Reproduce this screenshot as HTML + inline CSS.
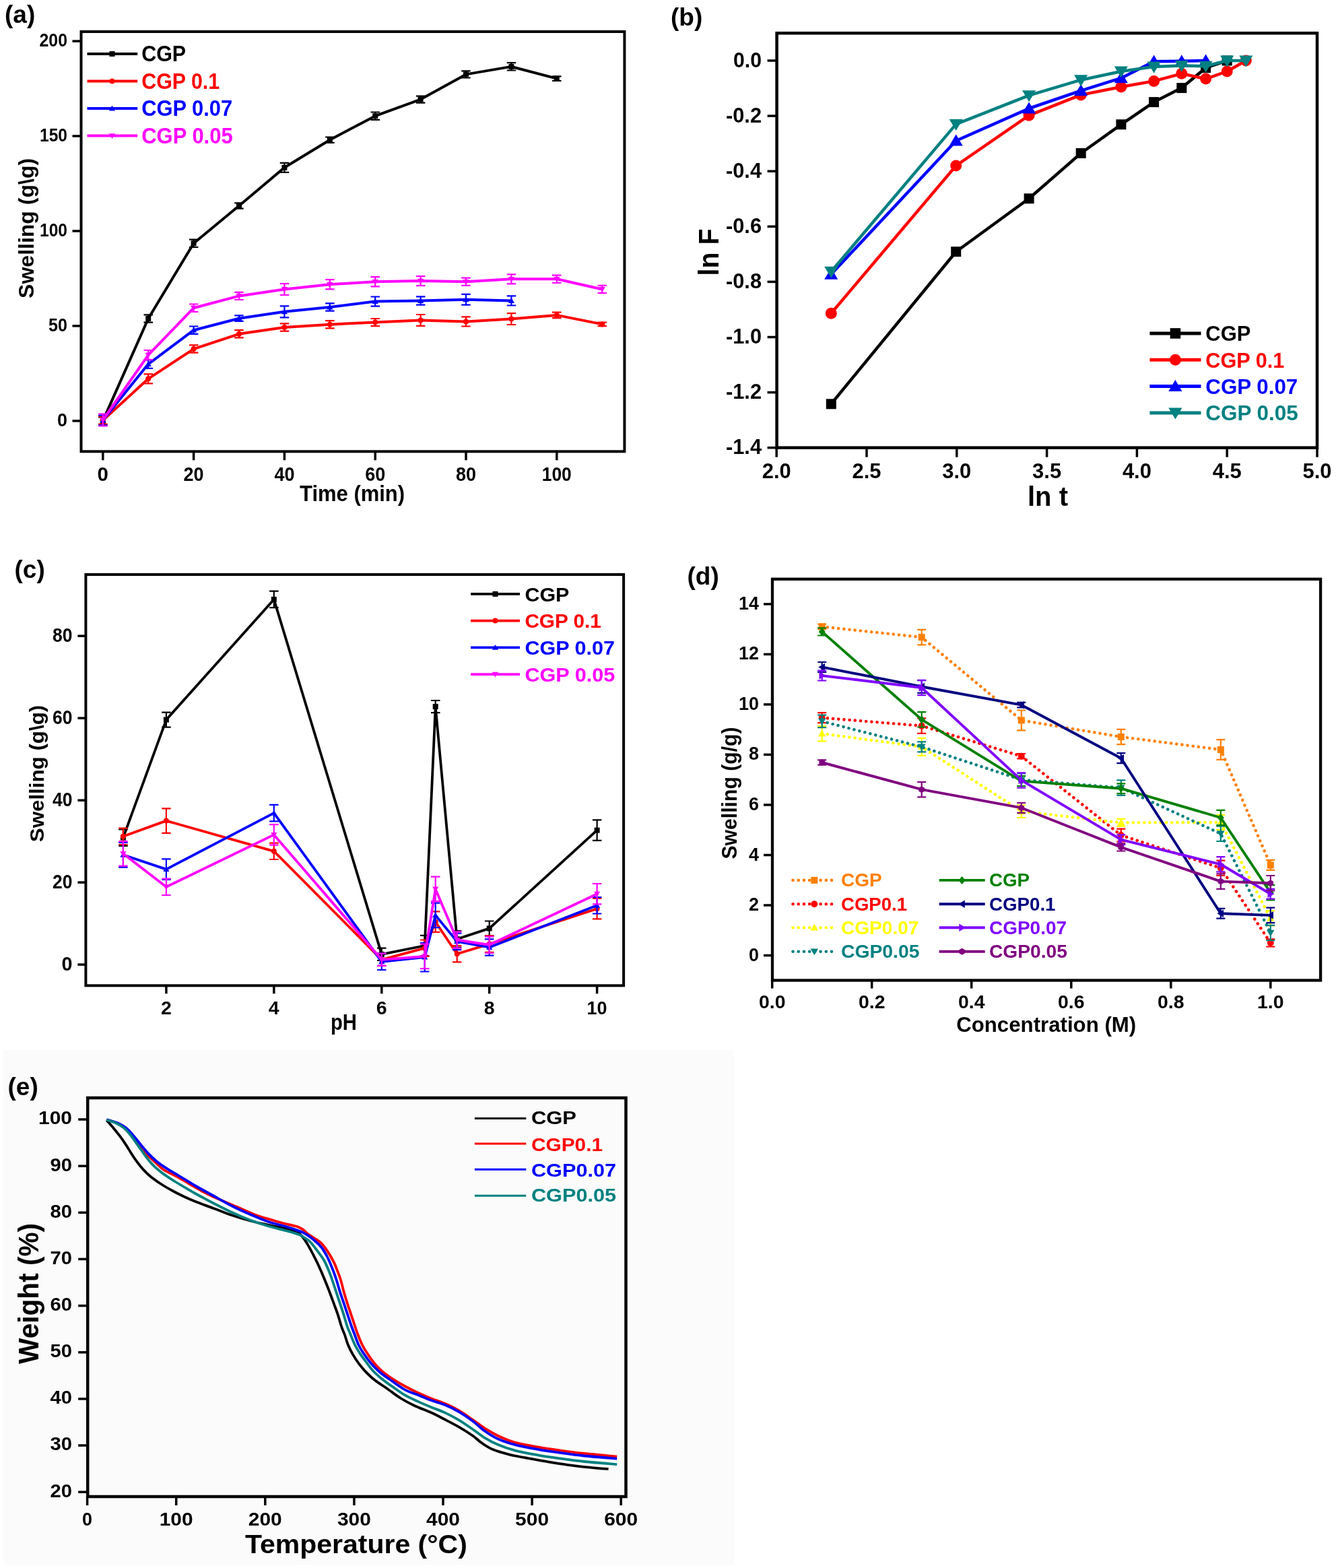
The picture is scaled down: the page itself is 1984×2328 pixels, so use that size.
<!DOCTYPE html>
<html><head><meta charset="utf-8"><title>Figure</title>
<style>html,body{margin:0;padding:0;background:#fff;width:1984px;height:2328px;overflow:hidden}svg{display:block}</style>
</head><body>
<svg width="1984" height="2328" viewBox="0 0 1984 2328" font-family="'Liberation Sans', Arial, sans-serif" font-weight="bold">
<rect width="1984" height="2328" fill="#fff"/>
<text x="7.0" y="33.5" font-size="37">(a)</text>
<line x1="107.5" y1="624.9" x2="120.5" y2="624.9" stroke="#000" stroke-width="3.5"/>
<text x="100.0" y="633.1" font-size="27" text-anchor="end">0</text>
<line x1="107.5" y1="483.9" x2="120.5" y2="483.9" stroke="#000" stroke-width="3.5"/>
<text x="100.0" y="492.1" font-size="27" text-anchor="end" textLength="28.0" lengthAdjust="spacingAndGlyphs">50</text>
<line x1="107.5" y1="343.0" x2="120.5" y2="343.0" stroke="#000" stroke-width="3.5"/>
<text x="100.0" y="351.2" font-size="27" text-anchor="end" textLength="41.0" lengthAdjust="spacingAndGlyphs">100</text>
<line x1="107.5" y1="202.0" x2="120.5" y2="202.0" stroke="#000" stroke-width="3.5"/>
<text x="100.0" y="210.2" font-size="27" text-anchor="end" textLength="41.0" lengthAdjust="spacingAndGlyphs">150</text>
<line x1="107.5" y1="61.1" x2="120.5" y2="61.1" stroke="#000" stroke-width="3.5"/>
<text x="100.0" y="69.3" font-size="27" text-anchor="end" textLength="41.5" lengthAdjust="spacingAndGlyphs">200</text>
<line x1="152.8" y1="670.3" x2="152.8" y2="683.3" stroke="#000" stroke-width="3.5"/>
<text x="152.8" y="714.0" font-size="29.5" text-anchor="middle">0</text>
<line x1="287.6" y1="670.3" x2="287.6" y2="683.3" stroke="#000" stroke-width="3.5"/>
<text x="287.6" y="714.0" font-size="29.5" text-anchor="middle" textLength="30.0" lengthAdjust="spacingAndGlyphs">20</text>
<line x1="422.4" y1="670.3" x2="422.4" y2="683.3" stroke="#000" stroke-width="3.5"/>
<text x="422.4" y="714.0" font-size="29.5" text-anchor="middle" textLength="30.0" lengthAdjust="spacingAndGlyphs">40</text>
<line x1="557.2" y1="670.3" x2="557.2" y2="683.3" stroke="#000" stroke-width="3.5"/>
<text x="557.2" y="714.0" font-size="29.5" text-anchor="middle" textLength="30.0" lengthAdjust="spacingAndGlyphs">60</text>
<line x1="692.0" y1="670.3" x2="692.0" y2="683.3" stroke="#000" stroke-width="3.5"/>
<text x="692.0" y="714.0" font-size="29.5" text-anchor="middle" textLength="30.0" lengthAdjust="spacingAndGlyphs">80</text>
<line x1="826.8" y1="670.3" x2="826.8" y2="683.3" stroke="#000" stroke-width="3.5"/>
<text x="826.8" y="714.0" font-size="29.5" text-anchor="middle" textLength="44.0" lengthAdjust="spacingAndGlyphs">100</text>
<text x="523.1" y="743.8" font-size="32.5" text-anchor="middle" textLength="156.0" lengthAdjust="spacingAndGlyphs">Time (min)</text>
<text x="50.0" y="338.9" font-size="31" text-anchor="middle" textLength="208.0" lengthAdjust="spacingAndGlyphs" transform="rotate(-90 50.0 338.9)">Swelling (g\g)</text>
<polyline points="152.8,624.9 220.2,473.0 287.6,361.3 355.0,305.5 422.4,248.8 489.8,207.7 557.2,172.2 624.6,147.6 692.0,110.4 759.4,98.9 826.8,116.6" fill="none" stroke="#000000" stroke-width="4" stroke-linejoin="round"/>
<path d="M152.8,630.5V619.3M146.1,630.5h13.5M146.1,619.3h13.5" stroke="#000000" stroke-width="2.2" fill="none"/>
<path d="M220.2,478.6V467.3M213.5,478.6h13.5M213.5,467.3h13.5" stroke="#000000" stroke-width="2.2" fill="none"/>
<path d="M287.6,367.0V355.7M280.9,367.0h13.5M280.9,355.7h13.5" stroke="#000000" stroke-width="2.2" fill="none"/>
<path d="M355.0,309.7V301.3M348.2,309.7h13.5M348.2,301.3h13.5" stroke="#000000" stroke-width="2.2" fill="none"/>
<path d="M422.4,255.9V241.8M415.7,255.9h13.5M415.7,241.8h13.5" stroke="#000000" stroke-width="2.2" fill="none"/>
<path d="M489.8,211.9V203.5M483.1,211.9h13.5M483.1,203.5h13.5" stroke="#000000" stroke-width="2.2" fill="none"/>
<path d="M557.2,177.8V166.5M550.5,177.8h13.5M550.5,166.5h13.5" stroke="#000000" stroke-width="2.2" fill="none"/>
<path d="M624.6,152.7V142.6M617.9,152.7h13.5M617.9,142.6h13.5" stroke="#000000" stroke-width="2.2" fill="none"/>
<path d="M692.0,115.5V105.4M685.2,115.5h13.5M685.2,105.4h13.5" stroke="#000000" stroke-width="2.2" fill="none"/>
<path d="M759.4,104.5V93.2M752.7,104.5h13.5M752.7,93.2h13.5" stroke="#000000" stroke-width="2.2" fill="none"/>
<path d="M826.8,120.0V113.3M820.0,120.0h13.5M820.0,113.3h13.5" stroke="#000000" stroke-width="2.2" fill="none"/>
<rect x="148.8" y="620.9" width="8.0" height="8.0" fill="#000000"/>
<rect x="216.2" y="469.0" width="8.0" height="8.0" fill="#000000"/>
<rect x="283.6" y="357.3" width="8.0" height="8.0" fill="#000000"/>
<rect x="351.0" y="301.5" width="8.0" height="8.0" fill="#000000"/>
<rect x="418.4" y="244.8" width="8.0" height="8.0" fill="#000000"/>
<rect x="485.8" y="203.7" width="8.0" height="8.0" fill="#000000"/>
<rect x="553.2" y="168.2" width="8.0" height="8.0" fill="#000000"/>
<rect x="620.6" y="143.6" width="8.0" height="8.0" fill="#000000"/>
<rect x="688.0" y="106.4" width="8.0" height="8.0" fill="#000000"/>
<rect x="755.4" y="94.9" width="8.0" height="8.0" fill="#000000"/>
<rect x="822.8" y="112.6" width="8.0" height="8.0" fill="#000000"/>
<polyline points="152.8,624.1 220.2,562.3 287.6,518.1 355.0,495.8 422.4,485.9 489.8,481.7 557.2,478.6 624.6,475.5 692.0,477.5 759.4,473.5 826.8,467.9 894.2,481.4" fill="none" stroke="#ff0000" stroke-width="4" stroke-linejoin="round"/>
<path d="M152.8,629.7V618.4M146.1,629.7h13.5M146.1,618.4h13.5" stroke="#ff0000" stroke-width="2.2" fill="none"/>
<path d="M220.2,569.4V555.3M213.5,569.4h13.5M213.5,555.3h13.5" stroke="#ff0000" stroke-width="2.2" fill="none"/>
<path d="M287.6,523.7V512.4M280.9,523.7h13.5M280.9,512.4h13.5" stroke="#ff0000" stroke-width="2.2" fill="none"/>
<path d="M355.0,501.4V490.2M348.2,501.4h13.5M348.2,490.2h13.5" stroke="#ff0000" stroke-width="2.2" fill="none"/>
<path d="M422.4,491.6V480.3M415.7,491.6h13.5M415.7,480.3h13.5" stroke="#ff0000" stroke-width="2.2" fill="none"/>
<path d="M489.8,487.3V476.1M483.1,487.3h13.5M483.1,476.1h13.5" stroke="#ff0000" stroke-width="2.2" fill="none"/>
<path d="M557.2,484.2V473.0M550.5,484.2h13.5M550.5,473.0h13.5" stroke="#ff0000" stroke-width="2.2" fill="none"/>
<path d="M624.6,483.9V467.0M617.9,483.9h13.5M617.9,467.0h13.5" stroke="#ff0000" stroke-width="2.2" fill="none"/>
<path d="M692.0,484.5V470.4M685.2,484.5h13.5M685.2,470.4h13.5" stroke="#ff0000" stroke-width="2.2" fill="none"/>
<path d="M759.4,482.0V465.1M752.7,482.0h13.5M752.7,465.1h13.5" stroke="#ff0000" stroke-width="2.2" fill="none"/>
<path d="M826.8,472.1V463.7M820.0,472.1h13.5M820.0,463.7h13.5" stroke="#ff0000" stroke-width="2.2" fill="none"/>
<path d="M894.2,484.2V478.6M887.5,484.2h13.5M887.5,478.6h13.5" stroke="#ff0000" stroke-width="2.2" fill="none"/>
<circle cx="152.8" cy="624.1" r="4.0" fill="#ff0000"/>
<circle cx="220.2" cy="562.3" r="4.0" fill="#ff0000"/>
<circle cx="287.6" cy="518.1" r="4.0" fill="#ff0000"/>
<circle cx="355.0" cy="495.8" r="4.0" fill="#ff0000"/>
<circle cx="422.4" cy="485.9" r="4.0" fill="#ff0000"/>
<circle cx="489.8" cy="481.7" r="4.0" fill="#ff0000"/>
<circle cx="557.2" cy="478.6" r="4.0" fill="#ff0000"/>
<circle cx="624.6" cy="475.5" r="4.0" fill="#ff0000"/>
<circle cx="692.0" cy="477.5" r="4.0" fill="#ff0000"/>
<circle cx="759.4" cy="473.5" r="4.0" fill="#ff0000"/>
<circle cx="826.8" cy="467.9" r="4.0" fill="#ff0000"/>
<circle cx="894.2" cy="481.4" r="4.0" fill="#ff0000"/>
<polyline points="152.8,624.1 220.2,540.6 287.6,490.2 355.0,472.7 422.4,462.8 489.8,456.0 557.2,447.6 624.6,446.5 692.0,444.8 759.4,446.5" fill="none" stroke="#0000ff" stroke-width="4" stroke-linejoin="round"/>
<path d="M152.8,631.4V616.7M146.1,631.4h13.5M146.1,616.7h13.5" stroke="#0000ff" stroke-width="2.2" fill="none"/>
<path d="M220.2,546.8V534.4M213.5,546.8h13.5M213.5,534.4h13.5" stroke="#0000ff" stroke-width="2.2" fill="none"/>
<path d="M287.6,495.8V484.5M280.9,495.8h13.5M280.9,484.5h13.5" stroke="#0000ff" stroke-width="2.2" fill="none"/>
<path d="M355.0,476.9V468.4M348.2,476.9h13.5M348.2,468.4h13.5" stroke="#0000ff" stroke-width="2.2" fill="none"/>
<path d="M422.4,471.3V454.4M415.7,471.3h13.5M415.7,454.4h13.5" stroke="#0000ff" stroke-width="2.2" fill="none"/>
<path d="M489.8,461.7V450.4M483.1,461.7h13.5M483.1,450.4h13.5" stroke="#0000ff" stroke-width="2.2" fill="none"/>
<path d="M557.2,454.6V440.5M550.5,454.6h13.5M550.5,440.5h13.5" stroke="#0000ff" stroke-width="2.2" fill="none"/>
<path d="M624.6,452.7V440.3M617.9,452.7h13.5M617.9,440.3h13.5" stroke="#0000ff" stroke-width="2.2" fill="none"/>
<path d="M692.0,452.7V436.9M685.2,452.7h13.5M685.2,436.9h13.5" stroke="#0000ff" stroke-width="2.2" fill="none"/>
<path d="M759.4,453.5V439.4M752.7,453.5h13.5M752.7,439.4h13.5" stroke="#0000ff" stroke-width="2.2" fill="none"/>
<polygon points="152.8,619.7 157.4,627.5 148.2,627.5" fill="#0000ff"/>
<polygon points="220.2,536.2 224.8,544.0 215.6,544.0" fill="#0000ff"/>
<polygon points="287.6,485.8 292.2,493.6 283.0,493.6" fill="#0000ff"/>
<polygon points="355.0,468.3 359.6,476.1 350.4,476.1" fill="#0000ff"/>
<polygon points="422.4,458.4 427.0,466.2 417.8,466.2" fill="#0000ff"/>
<polygon points="489.8,451.6 494.4,459.4 485.2,459.4" fill="#0000ff"/>
<polygon points="557.2,443.2 561.8,451.0 552.6,451.0" fill="#0000ff"/>
<polygon points="624.6,442.1 629.2,449.9 620.0,449.9" fill="#0000ff"/>
<polygon points="692.0,440.4 696.6,448.2 687.4,448.2" fill="#0000ff"/>
<polygon points="759.4,442.1 764.0,449.9 754.8,449.9" fill="#0000ff"/>
<polyline points="152.8,623.5 220.2,527.1 287.6,457.2 355.0,439.4 422.4,429.5 489.8,422.2 557.2,418.3 624.6,417.1 692.0,418.3 759.4,414.3 826.8,414.3 894.2,429.5" fill="none" stroke="#ff00ff" stroke-width="4" stroke-linejoin="round"/>
<path d="M152.8,632.5V614.5M146.1,632.5h13.5M146.1,614.5h13.5" stroke="#ff00ff" stroke-width="2.2" fill="none"/>
<path d="M220.2,534.1V520.0M213.5,534.1h13.5M213.5,520.0h13.5" stroke="#ff00ff" stroke-width="2.2" fill="none"/>
<path d="M287.6,462.8V451.5M280.9,462.8h13.5M280.9,451.5h13.5" stroke="#ff00ff" stroke-width="2.2" fill="none"/>
<path d="M355.0,445.0V433.8M348.2,445.0h13.5M348.2,433.8h13.5" stroke="#ff00ff" stroke-width="2.2" fill="none"/>
<path d="M422.4,438.0V421.1M415.7,438.0h13.5M415.7,421.1h13.5" stroke="#ff00ff" stroke-width="2.2" fill="none"/>
<path d="M489.8,429.3V415.2M483.1,429.3h13.5M483.1,415.2h13.5" stroke="#ff00ff" stroke-width="2.2" fill="none"/>
<path d="M557.2,425.3V411.2M550.5,425.3h13.5M550.5,411.2h13.5" stroke="#ff00ff" stroke-width="2.2" fill="none"/>
<path d="M624.6,424.2V410.1M617.9,424.2h13.5M617.9,410.1h13.5" stroke="#ff00ff" stroke-width="2.2" fill="none"/>
<path d="M692.0,423.9V412.6M685.2,423.9h13.5M685.2,412.6h13.5" stroke="#ff00ff" stroke-width="2.2" fill="none"/>
<path d="M759.4,421.4V407.3M752.7,421.4h13.5M752.7,407.3h13.5" stroke="#ff00ff" stroke-width="2.2" fill="none"/>
<path d="M826.8,420.0V408.7M820.0,420.0h13.5M820.0,408.7h13.5" stroke="#ff00ff" stroke-width="2.2" fill="none"/>
<path d="M894.2,435.2V423.9M887.5,435.2h13.5M887.5,423.9h13.5" stroke="#ff00ff" stroke-width="2.2" fill="none"/>
<polygon points="152.8,627.9 157.4,620.1 148.2,620.1" fill="#ff00ff"/>
<polygon points="220.2,531.5 224.8,523.7 215.6,523.7" fill="#ff00ff"/>
<polygon points="287.6,461.6 292.2,453.8 283.0,453.8" fill="#ff00ff"/>
<polygon points="355.0,443.8 359.6,436.0 350.4,436.0" fill="#ff00ff"/>
<polygon points="422.4,433.9 427.0,426.1 417.8,426.1" fill="#ff00ff"/>
<polygon points="489.8,426.6 494.4,418.8 485.2,418.8" fill="#ff00ff"/>
<polygon points="557.2,422.7 561.8,414.9 552.6,414.9" fill="#ff00ff"/>
<polygon points="624.6,421.5 629.2,413.7 620.0,413.7" fill="#ff00ff"/>
<polygon points="692.0,422.7 696.6,414.9 687.4,414.9" fill="#ff00ff"/>
<polygon points="759.4,418.7 764.0,410.9 754.8,410.9" fill="#ff00ff"/>
<polygon points="826.8,418.7 831.4,410.9 822.2,410.9" fill="#ff00ff"/>
<polygon points="894.2,433.9 898.8,426.1 889.6,426.1" fill="#ff00ff"/>
<rect x="120.5" y="47.0" width="806.9" height="623.3" fill="none" stroke="#000" stroke-width="4"/>
<line x1="129.5" y1="80.0" x2="204.2" y2="80.0" stroke="#000" stroke-width="4"/>
<rect x="162.5" y="76.0" width="8.0" height="8.0" fill="#000"/>
<text x="210.2" y="91.2" font-size="33" textLength="66.0" lengthAdjust="spacingAndGlyphs">CGP</text>
<line x1="129.5" y1="120.5" x2="204.2" y2="120.5" stroke="#ff0000" stroke-width="4"/>
<circle cx="166.5" cy="120.5" r="4.0" fill="#ff0000"/>
<text x="210.2" y="131.8" font-size="33" fill="#ff0000" textLength="116.0" lengthAdjust="spacingAndGlyphs">CGP 0.1</text>
<line x1="129.5" y1="161.1" x2="204.2" y2="161.1" stroke="#0000ff" stroke-width="4"/>
<polygon points="166.5,156.7 171.1,164.5 161.9,164.5" fill="#0000ff"/>
<text x="210.2" y="172.3" font-size="33" fill="#0000ff" textLength="135.0" lengthAdjust="spacingAndGlyphs">CGP 0.07</text>
<line x1="129.5" y1="201.6" x2="204.2" y2="201.6" stroke="#ff00ff" stroke-width="4"/>
<polygon points="166.5,206.0 171.1,198.2 161.9,198.2" fill="#ff00ff"/>
<text x="210.2" y="212.8" font-size="33" fill="#ff00ff" textLength="135.5" lengthAdjust="spacingAndGlyphs">CGP 0.05</text>
<text x="996.0" y="38.3" font-size="37">(b)</text>
<line x1="1139.6" y1="90.0" x2="1153.6" y2="90.0" stroke="#000" stroke-width="3.5"/>
<text x="1131.0" y="99.6" font-size="31.5" text-anchor="end" textLength="42.0" lengthAdjust="spacingAndGlyphs">0.0</text>
<line x1="1139.6" y1="172.1" x2="1153.6" y2="172.1" stroke="#000" stroke-width="3.5"/>
<text x="1131.0" y="181.7" font-size="31.5" text-anchor="end" textLength="53.0" lengthAdjust="spacingAndGlyphs">-0.2</text>
<line x1="1139.6" y1="254.2" x2="1153.6" y2="254.2" stroke="#000" stroke-width="3.5"/>
<text x="1131.0" y="263.8" font-size="31.5" text-anchor="end" textLength="53.0" lengthAdjust="spacingAndGlyphs">-0.4</text>
<line x1="1139.6" y1="336.3" x2="1153.6" y2="336.3" stroke="#000" stroke-width="3.5"/>
<text x="1131.0" y="345.9" font-size="31.5" text-anchor="end" textLength="53.0" lengthAdjust="spacingAndGlyphs">-0.6</text>
<line x1="1139.6" y1="418.4" x2="1153.6" y2="418.4" stroke="#000" stroke-width="3.5"/>
<text x="1131.0" y="428.0" font-size="31.5" text-anchor="end" textLength="53.0" lengthAdjust="spacingAndGlyphs">-0.8</text>
<line x1="1139.6" y1="500.5" x2="1153.6" y2="500.5" stroke="#000" stroke-width="3.5"/>
<text x="1131.0" y="510.1" font-size="31.5" text-anchor="end" textLength="53.0" lengthAdjust="spacingAndGlyphs">-1.0</text>
<line x1="1139.6" y1="582.6" x2="1153.6" y2="582.6" stroke="#000" stroke-width="3.5"/>
<text x="1131.0" y="592.2" font-size="31.5" text-anchor="end" textLength="53.0" lengthAdjust="spacingAndGlyphs">-1.2</text>
<line x1="1139.6" y1="664.7" x2="1153.6" y2="664.7" stroke="#000" stroke-width="3.5"/>
<text x="1131.0" y="674.3" font-size="31.5" text-anchor="end" textLength="53.0" lengthAdjust="spacingAndGlyphs">-1.4</text>
<line x1="1153.2" y1="664.7" x2="1153.2" y2="678.7" stroke="#000" stroke-width="3.5"/>
<text x="1153.2" y="710.0" font-size="31" text-anchor="middle" textLength="43.0" lengthAdjust="spacingAndGlyphs">2.0</text>
<line x1="1287.0" y1="664.7" x2="1287.0" y2="678.7" stroke="#000" stroke-width="3.5"/>
<text x="1287.0" y="710.0" font-size="31" text-anchor="middle" textLength="43.0" lengthAdjust="spacingAndGlyphs">2.5</text>
<line x1="1420.8" y1="664.7" x2="1420.8" y2="678.7" stroke="#000" stroke-width="3.5"/>
<text x="1420.8" y="710.0" font-size="31" text-anchor="middle" textLength="43.0" lengthAdjust="spacingAndGlyphs">3.0</text>
<line x1="1554.6" y1="664.7" x2="1554.6" y2="678.7" stroke="#000" stroke-width="3.5"/>
<text x="1554.6" y="710.0" font-size="31" text-anchor="middle" textLength="43.0" lengthAdjust="spacingAndGlyphs">3.5</text>
<line x1="1688.4" y1="664.7" x2="1688.4" y2="678.7" stroke="#000" stroke-width="3.5"/>
<text x="1688.4" y="710.0" font-size="31" text-anchor="middle" textLength="43.0" lengthAdjust="spacingAndGlyphs">4.0</text>
<line x1="1822.2" y1="664.7" x2="1822.2" y2="678.7" stroke="#000" stroke-width="3.5"/>
<text x="1822.2" y="710.0" font-size="31" text-anchor="middle" textLength="43.0" lengthAdjust="spacingAndGlyphs">4.5</text>
<line x1="1956.0" y1="664.7" x2="1956.0" y2="678.7" stroke="#000" stroke-width="3.5"/>
<text x="1956.0" y="710.0" font-size="31" text-anchor="middle" textLength="43.0" lengthAdjust="spacingAndGlyphs">5.0</text>
<text x="1556.0" y="750.7" font-size="40" text-anchor="middle" textLength="60.0" lengthAdjust="spacingAndGlyphs">ln t</text>
<text x="1066.7" y="374.5" font-size="41.6" text-anchor="middle" textLength="70.0" lengthAdjust="spacingAndGlyphs" transform="rotate(-90 1066.7 374.5)">ln F</text>
<polyline points="1234.3,599.8 1419.7,373.7 1528.1,294.8 1605.2,227.5 1664.9,184.8 1713.6,151.6 1754.8,130.6 1790.6,100.7 1822.2,90.0" fill="none" stroke="#000000" stroke-width="4.5" stroke-linejoin="round"/>
<rect x="1226.8" y="592.3" width="15.0" height="15.0" fill="#000000"/>
<rect x="1412.2" y="366.2" width="15.0" height="15.0" fill="#000000"/>
<rect x="1520.6" y="287.3" width="15.0" height="15.0" fill="#000000"/>
<rect x="1597.7" y="220.0" width="15.0" height="15.0" fill="#000000"/>
<rect x="1657.4" y="177.3" width="15.0" height="15.0" fill="#000000"/>
<rect x="1706.1" y="144.1" width="15.0" height="15.0" fill="#000000"/>
<rect x="1747.3" y="123.1" width="15.0" height="15.0" fill="#000000"/>
<rect x="1783.1" y="93.2" width="15.0" height="15.0" fill="#000000"/>
<rect x="1814.7" y="82.5" width="15.0" height="15.0" fill="#000000"/>
<polyline points="1234.3,465.2 1419.7,246.0 1528.1,171.3 1605.2,140.9 1664.9,129.0 1713.6,120.4 1754.8,109.3 1790.6,117.1 1822.2,106.0 1850.3,90.0" fill="none" stroke="#ff0000" stroke-width="4.5" stroke-linejoin="round"/>
<circle cx="1234.3" cy="465.2" r="8.5" fill="#ff0000"/>
<circle cx="1419.7" cy="246.0" r="8.5" fill="#ff0000"/>
<circle cx="1528.1" cy="171.3" r="8.5" fill="#ff0000"/>
<circle cx="1605.2" cy="140.9" r="8.5" fill="#ff0000"/>
<circle cx="1664.9" cy="129.0" r="8.5" fill="#ff0000"/>
<circle cx="1713.6" cy="120.4" r="8.5" fill="#ff0000"/>
<circle cx="1754.8" cy="109.3" r="8.5" fill="#ff0000"/>
<circle cx="1790.6" cy="117.1" r="8.5" fill="#ff0000"/>
<circle cx="1822.2" cy="106.0" r="8.5" fill="#ff0000"/>
<circle cx="1850.3" cy="90.0" r="8.5" fill="#ff0000"/>
<polyline points="1234.3,407.3 1419.7,209.0 1528.1,161.0 1605.2,134.7 1664.9,115.9 1713.6,91.2 1754.8,90.8 1790.6,90.0" fill="none" stroke="#0000ff" stroke-width="4.5" stroke-linejoin="round"/>
<polygon points="1234.3,397.7 1244.3,414.8 1224.2,414.8" fill="#0000ff"/>
<polygon points="1419.7,199.4 1429.8,216.5 1409.7,216.5" fill="#0000ff"/>
<polygon points="1528.1,151.4 1538.2,168.5 1518.0,168.5" fill="#0000ff"/>
<polygon points="1605.2,125.1 1615.2,142.2 1595.1,142.2" fill="#0000ff"/>
<polygon points="1664.9,106.2 1674.9,123.3 1654.8,123.3" fill="#0000ff"/>
<polygon points="1713.6,81.6 1723.6,98.7 1703.5,98.7" fill="#0000ff"/>
<polygon points="1754.8,81.2 1764.8,98.3 1744.7,98.3" fill="#0000ff"/>
<polygon points="1790.6,80.4 1800.7,97.4 1780.6,97.4" fill="#0000ff"/>
<polyline points="1234.3,403.2 1419.7,184.4 1528.1,141.7 1605.2,118.7 1664.9,106.0 1713.6,99.0 1754.8,97.4 1790.6,98.2 1822.2,90.0 1850.3,90.0" fill="none" stroke="#008080" stroke-width="4.5" stroke-linejoin="round"/>
<polygon points="1234.3,412.8 1244.3,395.8 1224.2,395.8" fill="#008080"/>
<polygon points="1419.7,194.0 1429.8,177.0 1409.7,177.0" fill="#008080"/>
<polygon points="1528.1,151.3 1538.2,134.3 1518.0,134.3" fill="#008080"/>
<polygon points="1605.2,128.4 1615.2,111.3 1595.1,111.3" fill="#008080"/>
<polygon points="1664.9,115.6 1674.9,98.6 1654.8,98.6" fill="#008080"/>
<polygon points="1713.6,108.7 1723.6,91.6 1703.5,91.6" fill="#008080"/>
<polygon points="1754.8,107.0 1764.8,90.0 1744.7,90.0" fill="#008080"/>
<polygon points="1790.6,107.8 1800.7,90.8 1780.6,90.8" fill="#008080"/>
<polygon points="1822.2,99.6 1832.3,82.6 1812.1,82.6" fill="#008080"/>
<polygon points="1850.3,99.6 1860.4,82.6 1840.2,82.6" fill="#008080"/>
<rect x="1153.6" y="49.2" width="802.4" height="615.5" fill="none" stroke="#000" stroke-width="4.5"/>
<line x1="1707.4" y1="495.0" x2="1783.5" y2="495.0" stroke="#000" stroke-width="5"/>
<rect x="1737.7" y="487.2" width="15.5" height="15.5" fill="#000"/>
<text x="1790.3" y="506.2" font-size="32" textLength="67.0" lengthAdjust="spacingAndGlyphs">CGP</text>
<line x1="1707.4" y1="534.3" x2="1783.5" y2="534.3" stroke="#ff0000" stroke-width="5"/>
<circle cx="1745.4" cy="534.3" r="8.5" fill="#ff0000"/>
<text x="1790.3" y="545.5" font-size="32" fill="#ff0000" textLength="117.0" lengthAdjust="spacingAndGlyphs">CGP 0.1</text>
<line x1="1707.4" y1="573.6" x2="1783.5" y2="573.6" stroke="#0000ff" stroke-width="5"/>
<polygon points="1745.4,564.0 1755.5,581.0 1735.3,581.0" fill="#0000ff"/>
<text x="1790.3" y="584.8" font-size="32" fill="#0000ff" textLength="137.0" lengthAdjust="spacingAndGlyphs">CGP 0.07</text>
<line x1="1707.4" y1="612.9" x2="1783.5" y2="612.9" stroke="#008080" stroke-width="5"/>
<polygon points="1745.4,622.5 1755.5,605.5 1735.3,605.5" fill="#008080"/>
<text x="1790.3" y="624.1" font-size="32" fill="#008080" textLength="137.5" lengthAdjust="spacingAndGlyphs">CGP 0.05</text>
<text x="21.5" y="858.2" font-size="37">(c)</text>
<line x1="115.4" y1="1432.1" x2="127.4" y2="1432.1" stroke="#000" stroke-width="3.5"/>
<text x="107.5" y="1441.1" font-size="28.8" text-anchor="end">0</text>
<line x1="115.4" y1="1310.1" x2="127.4" y2="1310.1" stroke="#000" stroke-width="3.5"/>
<text x="107.5" y="1319.1" font-size="28.8" text-anchor="end" textLength="29.5" lengthAdjust="spacingAndGlyphs">20</text>
<line x1="115.4" y1="1188.2" x2="127.4" y2="1188.2" stroke="#000" stroke-width="3.5"/>
<text x="107.5" y="1197.2" font-size="28.8" text-anchor="end" textLength="29.5" lengthAdjust="spacingAndGlyphs">40</text>
<line x1="115.4" y1="1066.2" x2="127.4" y2="1066.2" stroke="#000" stroke-width="3.5"/>
<text x="107.5" y="1075.2" font-size="28.8" text-anchor="end" textLength="29.5" lengthAdjust="spacingAndGlyphs">60</text>
<line x1="115.4" y1="944.2" x2="127.4" y2="944.2" stroke="#000" stroke-width="3.5"/>
<text x="107.5" y="953.2" font-size="28.8" text-anchor="end" textLength="29.5" lengthAdjust="spacingAndGlyphs">80</text>
<line x1="246.9" y1="1463.3" x2="246.9" y2="1475.3" stroke="#000" stroke-width="3.5"/>
<text x="246.9" y="1505.7" font-size="28.5" text-anchor="middle">2</text>
<line x1="406.8" y1="1463.3" x2="406.8" y2="1475.3" stroke="#000" stroke-width="3.5"/>
<text x="406.8" y="1505.7" font-size="28.5" text-anchor="middle">4</text>
<line x1="566.8" y1="1463.3" x2="566.8" y2="1475.3" stroke="#000" stroke-width="3.5"/>
<text x="566.8" y="1505.7" font-size="28.5" text-anchor="middle">6</text>
<line x1="726.7" y1="1463.3" x2="726.7" y2="1475.3" stroke="#000" stroke-width="3.5"/>
<text x="726.7" y="1505.7" font-size="28.5" text-anchor="middle">8</text>
<line x1="886.6" y1="1463.3" x2="886.6" y2="1475.3" stroke="#000" stroke-width="3.5"/>
<text x="886.6" y="1505.7" font-size="28.5" text-anchor="middle" textLength="30.0" lengthAdjust="spacingAndGlyphs">10</text>
<text x="510.5" y="1528.6" font-size="32.5" text-anchor="middle" textLength="39.0" lengthAdjust="spacingAndGlyphs">pH</text>
<text x="65.0" y="1148.5" font-size="30.3" text-anchor="middle" textLength="203.5" lengthAdjust="spacingAndGlyphs" transform="rotate(-90 65.0 1148.5)">Swelling (g\g)</text>
<polyline points="182.9,1243.6 246.9,1068.6 406.8,889.9 566.8,1416.9 630.7,1404.0 646.7,1049.1 678.7,1394.3 726.7,1378.4 886.6,1232.7" fill="none" stroke="#000000" stroke-width="3.8" stroke-linejoin="round"/>
<path d="M182.9,1255.8V1231.5M176.2,1255.8h13.5M176.2,1231.5h13.5" stroke="#000000" stroke-width="2.2" fill="none"/>
<path d="M246.9,1079.6V1057.6M240.2,1079.6h13.5M240.2,1057.6h13.5" stroke="#000000" stroke-width="2.2" fill="none"/>
<path d="M406.8,902.1V877.7M400.1,902.1h13.5M400.1,877.7h13.5" stroke="#000000" stroke-width="2.2" fill="none"/>
<path d="M566.8,1426.0V1407.7M560.0,1426.0h13.5M560.0,1407.7h13.5" stroke="#000000" stroke-width="2.2" fill="none"/>
<path d="M630.7,1419.3V1388.8M624.0,1419.3h13.5M624.0,1388.8h13.5" stroke="#000000" stroke-width="2.2" fill="none"/>
<path d="M646.7,1058.2V1040.0M640.0,1058.2h13.5M640.0,1040.0h13.5" stroke="#000000" stroke-width="2.2" fill="none"/>
<path d="M678.7,1406.5V1382.1M671.9,1406.5h13.5M671.9,1382.1h13.5" stroke="#000000" stroke-width="2.2" fill="none"/>
<path d="M726.7,1389.4V1367.5M719.9,1389.4h13.5M719.9,1367.5h13.5" stroke="#000000" stroke-width="2.2" fill="none"/>
<path d="M886.6,1247.9V1217.4M879.9,1247.9h13.5M879.9,1217.4h13.5" stroke="#000000" stroke-width="2.2" fill="none"/>
<rect x="178.9" y="1239.6" width="8.0" height="8.0" fill="#000000"/>
<rect x="242.9" y="1064.6" width="8.0" height="8.0" fill="#000000"/>
<rect x="402.8" y="885.9" width="8.0" height="8.0" fill="#000000"/>
<rect x="562.8" y="1412.9" width="8.0" height="8.0" fill="#000000"/>
<rect x="626.7" y="1400.0" width="8.0" height="8.0" fill="#000000"/>
<rect x="642.7" y="1045.1" width="8.0" height="8.0" fill="#000000"/>
<rect x="674.7" y="1390.3" width="8.0" height="8.0" fill="#000000"/>
<rect x="722.7" y="1374.4" width="8.0" height="8.0" fill="#000000"/>
<rect x="882.6" y="1228.7" width="8.0" height="8.0" fill="#000000"/>
<polyline points="182.9,1241.8 246.9,1218.6 406.8,1263.8 566.8,1424.8 630.7,1407.7 646.7,1368.7 678.7,1416.2 726.7,1401.6 886.6,1349.2" fill="none" stroke="#ff0000" stroke-width="3.8" stroke-linejoin="round"/>
<path d="M182.9,1254.0V1229.6M176.2,1254.0h13.5M176.2,1229.6h13.5" stroke="#ff0000" stroke-width="2.2" fill="none"/>
<path d="M246.9,1236.9V1200.3M240.2,1236.9h13.5M240.2,1200.3h13.5" stroke="#ff0000" stroke-width="2.2" fill="none"/>
<path d="M406.8,1276.0V1251.6M400.1,1276.0h13.5M400.1,1251.6h13.5" stroke="#ff0000" stroke-width="2.2" fill="none"/>
<path d="M566.8,1433.9V1415.6M560.0,1433.9h13.5M560.0,1415.6h13.5" stroke="#ff0000" stroke-width="2.2" fill="none"/>
<path d="M630.7,1419.9V1395.5M624.0,1419.9h13.5M624.0,1395.5h13.5" stroke="#ff0000" stroke-width="2.2" fill="none"/>
<path d="M646.7,1383.9V1353.4M640.0,1383.9h13.5M640.0,1353.4h13.5" stroke="#ff0000" stroke-width="2.2" fill="none"/>
<path d="M678.7,1428.4V1404.0M671.9,1428.4h13.5M671.9,1404.0h13.5" stroke="#ff0000" stroke-width="2.2" fill="none"/>
<path d="M726.7,1413.8V1389.4M719.9,1413.8h13.5M719.9,1389.4h13.5" stroke="#ff0000" stroke-width="2.2" fill="none"/>
<path d="M886.6,1364.4V1333.9M879.9,1364.4h13.5M879.9,1333.9h13.5" stroke="#ff0000" stroke-width="2.2" fill="none"/>
<circle cx="182.9" cy="1241.8" r="4.0" fill="#ff0000"/>
<circle cx="246.9" cy="1218.6" r="4.0" fill="#ff0000"/>
<circle cx="406.8" cy="1263.8" r="4.0" fill="#ff0000"/>
<circle cx="566.8" cy="1424.8" r="4.0" fill="#ff0000"/>
<circle cx="630.7" cy="1407.7" r="4.0" fill="#ff0000"/>
<circle cx="646.7" cy="1368.7" r="4.0" fill="#ff0000"/>
<circle cx="678.7" cy="1416.2" r="4.0" fill="#ff0000"/>
<circle cx="726.7" cy="1401.6" r="4.0" fill="#ff0000"/>
<circle cx="886.6" cy="1349.2" r="4.0" fill="#ff0000"/>
<polyline points="182.9,1269.3 246.9,1290.6 406.8,1207.1 566.8,1427.8 630.7,1421.1 646.7,1358.9 678.7,1397.9 726.7,1406.5 886.6,1344.3" fill="none" stroke="#0000ff" stroke-width="3.8" stroke-linejoin="round"/>
<path d="M182.9,1287.6V1251.0M176.2,1287.6h13.5M176.2,1251.0h13.5" stroke="#0000ff" stroke-width="2.2" fill="none"/>
<path d="M246.9,1305.9V1275.4M240.2,1305.9h13.5M240.2,1275.4h13.5" stroke="#0000ff" stroke-width="2.2" fill="none"/>
<path d="M406.8,1219.3V1194.9M400.1,1219.3h13.5M400.1,1194.9h13.5" stroke="#0000ff" stroke-width="2.2" fill="none"/>
<path d="M566.8,1440.0V1415.6M560.0,1440.0h13.5M560.0,1415.6h13.5" stroke="#0000ff" stroke-width="2.2" fill="none"/>
<path d="M630.7,1442.5V1399.8M624.0,1442.5h13.5M624.0,1399.8h13.5" stroke="#0000ff" stroke-width="2.2" fill="none"/>
<path d="M646.7,1377.2V1340.6M640.0,1377.2h13.5M640.0,1340.6h13.5" stroke="#0000ff" stroke-width="2.2" fill="none"/>
<path d="M678.7,1410.1V1385.7M671.9,1410.1h13.5M671.9,1385.7h13.5" stroke="#0000ff" stroke-width="2.2" fill="none"/>
<path d="M726.7,1418.7V1394.3M719.9,1418.7h13.5M719.9,1394.3h13.5" stroke="#0000ff" stroke-width="2.2" fill="none"/>
<path d="M886.6,1356.5V1332.1M879.9,1356.5h13.5M879.9,1332.1h13.5" stroke="#0000ff" stroke-width="2.2" fill="none"/>
<polygon points="182.9,1264.9 187.5,1272.7 178.3,1272.7" fill="#0000ff"/>
<polygon points="246.9,1286.2 251.5,1294.0 242.3,1294.0" fill="#0000ff"/>
<polygon points="406.8,1202.7 411.4,1210.5 402.2,1210.5" fill="#0000ff"/>
<polygon points="566.8,1423.4 571.4,1431.2 562.1,1431.2" fill="#0000ff"/>
<polygon points="630.7,1416.7 635.3,1424.5 626.1,1424.5" fill="#0000ff"/>
<polygon points="646.7,1354.5 651.3,1362.3 642.1,1362.3" fill="#0000ff"/>
<polygon points="678.7,1393.5 683.3,1401.3 674.1,1401.3" fill="#0000ff"/>
<polygon points="726.7,1402.1 731.3,1409.9 722.1,1409.9" fill="#0000ff"/>
<polygon points="886.6,1339.9 891.2,1347.7 882.0,1347.7" fill="#0000ff"/>
<polyline points="182.9,1267.4 246.9,1316.8 406.8,1239.4 566.8,1424.8 630.7,1419.9 646.7,1319.9 678.7,1395.5 726.7,1402.8 886.6,1327.2" fill="none" stroke="#ff00ff" stroke-width="3.8" stroke-linejoin="round"/>
<path d="M182.9,1285.7V1249.1M176.2,1285.7h13.5M176.2,1249.1h13.5" stroke="#ff00ff" stroke-width="2.2" fill="none"/>
<path d="M246.9,1329.0V1304.6M240.2,1329.0h13.5M240.2,1304.6h13.5" stroke="#ff00ff" stroke-width="2.2" fill="none"/>
<path d="M406.8,1254.6V1224.1M400.1,1254.6h13.5M400.1,1224.1h13.5" stroke="#ff00ff" stroke-width="2.2" fill="none"/>
<path d="M566.8,1433.9V1415.6M560.0,1433.9h13.5M560.0,1415.6h13.5" stroke="#ff00ff" stroke-width="2.2" fill="none"/>
<path d="M630.7,1438.2V1401.6M624.0,1438.2h13.5M624.0,1401.6h13.5" stroke="#ff00ff" stroke-width="2.2" fill="none"/>
<path d="M646.7,1338.2V1301.6M640.0,1338.2h13.5M640.0,1301.6h13.5" stroke="#ff00ff" stroke-width="2.2" fill="none"/>
<path d="M678.7,1407.7V1383.3M671.9,1407.7h13.5M671.9,1383.3h13.5" stroke="#ff00ff" stroke-width="2.2" fill="none"/>
<path d="M726.7,1415.0V1390.6M719.9,1415.0h13.5M719.9,1390.6h13.5" stroke="#ff00ff" stroke-width="2.2" fill="none"/>
<path d="M886.6,1342.4V1312.0M879.9,1342.4h13.5M879.9,1312.0h13.5" stroke="#ff00ff" stroke-width="2.2" fill="none"/>
<polygon points="182.9,1271.8 187.5,1264.0 178.3,1264.0" fill="#ff00ff"/>
<polygon points="246.9,1321.2 251.5,1313.4 242.3,1313.4" fill="#ff00ff"/>
<polygon points="406.8,1243.8 411.4,1236.0 402.2,1236.0" fill="#ff00ff"/>
<polygon points="566.8,1429.2 571.4,1421.4 562.1,1421.4" fill="#ff00ff"/>
<polygon points="630.7,1424.3 635.3,1416.5 626.1,1416.5" fill="#ff00ff"/>
<polygon points="646.7,1324.3 651.3,1316.5 642.1,1316.5" fill="#ff00ff"/>
<polygon points="678.7,1399.9 683.3,1392.1 674.1,1392.1" fill="#ff00ff"/>
<polygon points="726.7,1407.2 731.3,1399.4 722.1,1399.4" fill="#ff00ff"/>
<polygon points="886.6,1331.6 891.2,1323.8 882.0,1323.8" fill="#ff00ff"/>
<rect x="127.4" y="853.0" width="798.7" height="610.3" fill="none" stroke="#000" stroke-width="4"/>
<line x1="699.1" y1="881.9" x2="772.0" y2="881.9" stroke="#000" stroke-width="3.8"/>
<rect x="731.5" y="877.9" width="8.0" height="8.0" fill="#000"/>
<text x="779.4" y="892.7" font-size="29" textLength="66.0" lengthAdjust="spacingAndGlyphs">CGP</text>
<line x1="699.1" y1="921.6" x2="772.0" y2="921.6" stroke="#ff0000" stroke-width="3.8"/>
<circle cx="735.5" cy="921.6" r="4.0" fill="#ff0000"/>
<text x="779.4" y="932.4" font-size="29" fill="#ff0000" textLength="113.5" lengthAdjust="spacingAndGlyphs">CGP 0.1</text>
<line x1="699.1" y1="961.4" x2="772.0" y2="961.4" stroke="#0000ff" stroke-width="3.8"/>
<polygon points="735.5,957.0 740.1,964.8 730.9,964.8" fill="#0000ff"/>
<text x="779.4" y="972.2" font-size="29" fill="#0000ff" textLength="133.5" lengthAdjust="spacingAndGlyphs">CGP 0.07</text>
<line x1="699.1" y1="1001.1" x2="772.0" y2="1001.1" stroke="#ff00ff" stroke-width="3.8"/>
<polygon points="735.5,1005.5 740.1,997.7 730.9,997.7" fill="#ff00ff"/>
<text x="779.4" y="1011.9" font-size="29" fill="#ff00ff" textLength="134.0" lengthAdjust="spacingAndGlyphs">CGP 0.05</text>
<text x="1020.5" y="867.6" font-size="37">(d)</text>
<line x1="1134.0" y1="1418.5" x2="1147.0" y2="1418.5" stroke="#000" stroke-width="3.5"/>
<text x="1127.0" y="1426.5" font-size="27" text-anchor="end">0</text>
<line x1="1134.0" y1="1344.0" x2="1147.0" y2="1344.0" stroke="#000" stroke-width="3.5"/>
<text x="1127.0" y="1352.0" font-size="27" text-anchor="end">2</text>
<line x1="1134.0" y1="1269.5" x2="1147.0" y2="1269.5" stroke="#000" stroke-width="3.5"/>
<text x="1127.0" y="1277.5" font-size="27" text-anchor="end">4</text>
<line x1="1134.0" y1="1195.0" x2="1147.0" y2="1195.0" stroke="#000" stroke-width="3.5"/>
<text x="1127.0" y="1203.0" font-size="27" text-anchor="end">6</text>
<line x1="1134.0" y1="1120.4" x2="1147.0" y2="1120.4" stroke="#000" stroke-width="3.5"/>
<text x="1127.0" y="1128.4" font-size="27" text-anchor="end">8</text>
<line x1="1134.0" y1="1045.9" x2="1147.0" y2="1045.9" stroke="#000" stroke-width="3.5"/>
<text x="1127.0" y="1053.9" font-size="27" text-anchor="end" textLength="30.0" lengthAdjust="spacingAndGlyphs">10</text>
<line x1="1134.0" y1="971.4" x2="1147.0" y2="971.4" stroke="#000" stroke-width="3.5"/>
<text x="1127.0" y="979.4" font-size="27" text-anchor="end" textLength="30.0" lengthAdjust="spacingAndGlyphs">12</text>
<line x1="1134.0" y1="896.9" x2="1147.0" y2="896.9" stroke="#000" stroke-width="3.5"/>
<text x="1127.0" y="904.9" font-size="27" text-anchor="end" textLength="30.0" lengthAdjust="spacingAndGlyphs">14</text>
<line x1="1146.7" y1="1455.5" x2="1146.7" y2="1467.5" stroke="#000" stroke-width="3.5"/>
<text x="1146.7" y="1497.3" font-size="28" text-anchor="middle" textLength="39.5" lengthAdjust="spacingAndGlyphs">0.0</text>
<line x1="1294.7" y1="1455.5" x2="1294.7" y2="1467.5" stroke="#000" stroke-width="3.5"/>
<text x="1294.7" y="1497.3" font-size="28" text-anchor="middle" textLength="39.5" lengthAdjust="spacingAndGlyphs">0.2</text>
<line x1="1442.7" y1="1455.5" x2="1442.7" y2="1467.5" stroke="#000" stroke-width="3.5"/>
<text x="1442.7" y="1497.3" font-size="28" text-anchor="middle" textLength="39.5" lengthAdjust="spacingAndGlyphs">0.4</text>
<line x1="1590.8" y1="1455.5" x2="1590.8" y2="1467.5" stroke="#000" stroke-width="3.5"/>
<text x="1590.8" y="1497.3" font-size="28" text-anchor="middle" textLength="39.5" lengthAdjust="spacingAndGlyphs">0.6</text>
<line x1="1738.8" y1="1455.5" x2="1738.8" y2="1467.5" stroke="#000" stroke-width="3.5"/>
<text x="1738.8" y="1497.3" font-size="28" text-anchor="middle" textLength="39.5" lengthAdjust="spacingAndGlyphs">0.8</text>
<line x1="1886.8" y1="1455.5" x2="1886.8" y2="1467.5" stroke="#000" stroke-width="3.5"/>
<text x="1886.8" y="1497.3" font-size="28" text-anchor="middle" textLength="39.5" lengthAdjust="spacingAndGlyphs">1.0</text>
<text x="1553.7" y="1532.0" font-size="30.7" text-anchor="middle" textLength="267.0" lengthAdjust="spacingAndGlyphs">Concentration (M)</text>
<text x="1094.4" y="1177.5" font-size="30.7" text-anchor="middle" textLength="196.0" lengthAdjust="spacingAndGlyphs" transform="rotate(-90 1094.4 1177.5)">Swelling (g/g)</text>
<polyline points="1220.7,930.4 1368.7,946.1 1516.8,1069.4 1664.8,1094.0 1812.8,1113.0 1886.8,1284.4" fill="none" stroke="#ff8000" stroke-width="4.6" stroke-linejoin="round" stroke-dasharray="0.01 8.2" stroke-linecap="round"/>
<path d="M1220.7,934.2V926.7M1214.2,934.2h13.0M1214.2,926.7h13.0" stroke="#ff8000" stroke-width="2.2" fill="none"/>
<path d="M1368.7,957.3V934.9M1362.2,957.3h13.0M1362.2,934.9h13.0" stroke="#ff8000" stroke-width="2.2" fill="none"/>
<path d="M1516.8,1084.3V1054.5M1510.2,1084.3h13.0M1510.2,1054.5h13.0" stroke="#ff8000" stroke-width="2.2" fill="none"/>
<path d="M1664.8,1105.2V1082.8M1658.3,1105.2h13.0M1658.3,1082.8h13.0" stroke="#ff8000" stroke-width="2.2" fill="none"/>
<path d="M1812.8,1127.9V1098.1M1806.3,1127.9h13.0M1806.3,1098.1h13.0" stroke="#ff8000" stroke-width="2.2" fill="none"/>
<path d="M1886.8,1291.8V1276.9M1880.3,1291.8h13.0M1880.3,1276.9h13.0" stroke="#ff8000" stroke-width="2.2" fill="none"/>
<rect x="1215.7" y="925.4" width="10.0" height="10.0" fill="#ff8000"/>
<rect x="1363.7" y="941.1" width="10.0" height="10.0" fill="#ff8000"/>
<rect x="1511.8" y="1064.4" width="10.0" height="10.0" fill="#ff8000"/>
<rect x="1659.8" y="1089.0" width="10.0" height="10.0" fill="#ff8000"/>
<rect x="1807.8" y="1108.0" width="10.0" height="10.0" fill="#ff8000"/>
<rect x="1881.8" y="1279.4" width="10.0" height="10.0" fill="#ff8000"/>
<polyline points="1220.7,1065.7 1368.7,1077.6 1516.8,1122.7 1664.8,1240.0 1812.8,1288.8 1886.8,1399.9" fill="none" stroke="#ff0000" stroke-width="4.6" stroke-linejoin="round" stroke-dasharray="0.01 8.2" stroke-linecap="round"/>
<path d="M1220.7,1073.1V1058.2M1214.2,1073.1h13.0M1214.2,1058.2h13.0" stroke="#ff0000" stroke-width="2.2" fill="none"/>
<path d="M1368.7,1088.8V1066.4M1362.2,1088.8h13.0M1362.2,1066.4h13.0" stroke="#ff0000" stroke-width="2.2" fill="none"/>
<path d="M1516.8,1126.4V1119.0M1510.2,1126.4h13.0M1510.2,1119.0h13.0" stroke="#ff0000" stroke-width="2.2" fill="none"/>
<path d="M1664.8,1249.4V1230.7M1658.3,1249.4h13.0M1658.3,1230.7h13.0" stroke="#ff0000" stroke-width="2.2" fill="none"/>
<path d="M1812.8,1300.0V1277.7M1806.3,1300.0h13.0M1806.3,1277.7h13.0" stroke="#ff0000" stroke-width="2.2" fill="none"/>
<path d="M1886.8,1405.5V1394.3M1880.3,1405.5h13.0M1880.3,1394.3h13.0" stroke="#ff0000" stroke-width="2.2" fill="none"/>
<circle cx="1220.7" cy="1065.7" r="5.0" fill="#ff0000"/>
<circle cx="1368.7" cy="1077.6" r="5.0" fill="#ff0000"/>
<circle cx="1516.8" cy="1122.7" r="5.0" fill="#ff0000"/>
<circle cx="1664.8" cy="1240.0" r="5.0" fill="#ff0000"/>
<circle cx="1812.8" cy="1288.8" r="5.0" fill="#ff0000"/>
<circle cx="1886.8" cy="1399.9" r="5.0" fill="#ff0000"/>
<polyline points="1220.7,1089.1 1368.7,1108.9 1516.8,1204.6 1664.8,1221.4 1812.8,1221.0 1886.8,1363.4" fill="none" stroke="#ffff00" stroke-width="4.6" stroke-linejoin="round" stroke-dasharray="0.01 8.2" stroke-linecap="round"/>
<path d="M1220.7,1100.3V1078.0M1214.2,1100.3h13.0M1214.2,1078.0h13.0" stroke="#ffff00" stroke-width="2.2" fill="none"/>
<path d="M1368.7,1121.9V1095.9M1362.2,1121.9h13.0M1362.2,1095.9h13.0" stroke="#ffff00" stroke-width="2.2" fill="none"/>
<path d="M1516.8,1214.0V1195.3M1510.2,1214.0h13.0M1510.2,1195.3h13.0" stroke="#ffff00" stroke-width="2.2" fill="none"/>
<path d="M1664.8,1227.0V1215.8M1658.3,1227.0h13.0M1658.3,1215.8h13.0" stroke="#ffff00" stroke-width="2.2" fill="none"/>
<path d="M1812.8,1232.2V1209.9M1806.3,1232.2h13.0M1806.3,1209.9h13.0" stroke="#ffff00" stroke-width="2.2" fill="none"/>
<path d="M1886.8,1374.5V1352.2M1880.3,1374.5h13.0M1880.3,1352.2h13.0" stroke="#ffff00" stroke-width="2.2" fill="none"/>
<polygon points="1220.7,1083.6 1226.5,1093.4 1215.0,1093.4" fill="#ffff00"/>
<polygon points="1368.7,1103.4 1374.5,1113.1 1363.0,1113.1" fill="#ffff00"/>
<polygon points="1516.8,1199.1 1522.5,1208.9 1511.0,1208.9" fill="#ffff00"/>
<polygon points="1664.8,1215.9 1670.5,1225.7 1659.0,1225.7" fill="#ffff00"/>
<polygon points="1812.8,1215.5 1818.5,1225.3 1807.0,1225.3" fill="#ffff00"/>
<polygon points="1886.8,1357.9 1892.5,1367.6 1881.0,1367.6" fill="#ffff00"/>
<polyline points="1220.7,1070.9 1368.7,1108.9 1516.8,1157.7 1664.8,1169.6 1812.8,1237.8 1886.8,1385.0" fill="none" stroke="#008080" stroke-width="4.6" stroke-linejoin="round" stroke-dasharray="0.01 8.2" stroke-linecap="round"/>
<path d="M1220.7,1080.2V1061.6M1214.2,1080.2h13.0M1214.2,1061.6h13.0" stroke="#008080" stroke-width="2.2" fill="none"/>
<path d="M1368.7,1116.3V1101.4M1362.2,1116.3h13.0M1362.2,1101.4h13.0" stroke="#008080" stroke-width="2.2" fill="none"/>
<path d="M1516.8,1167.0V1148.4M1510.2,1167.0h13.0M1510.2,1148.4h13.0" stroke="#008080" stroke-width="2.2" fill="none"/>
<path d="M1664.8,1180.8V1158.4M1658.3,1180.8h13.0M1658.3,1158.4h13.0" stroke="#008080" stroke-width="2.2" fill="none"/>
<path d="M1812.8,1249.0V1226.6M1806.3,1249.0h13.0M1806.3,1226.6h13.0" stroke="#008080" stroke-width="2.2" fill="none"/>
<path d="M1886.8,1396.1V1373.8M1880.3,1396.1h13.0M1880.3,1373.8h13.0" stroke="#008080" stroke-width="2.2" fill="none"/>
<polygon points="1220.7,1076.4 1226.5,1066.6 1215.0,1066.6" fill="#008080"/>
<polygon points="1368.7,1114.4 1374.5,1104.6 1363.0,1104.6" fill="#008080"/>
<polygon points="1516.8,1163.2 1522.5,1153.5 1511.0,1153.5" fill="#008080"/>
<polygon points="1664.8,1175.1 1670.5,1165.4 1659.0,1165.4" fill="#008080"/>
<polygon points="1812.8,1243.3 1818.5,1233.6 1807.0,1233.6" fill="#008080"/>
<polygon points="1886.8,1390.5 1892.5,1380.7 1881.0,1380.7" fill="#008080"/>
<polyline points="1220.7,937.9 1368.7,1068.3 1516.8,1159.6 1664.8,1170.7 1812.8,1214.0 1886.8,1325.4" fill="none" stroke="#008000" stroke-width="3.9" stroke-linejoin="round"/>
<path d="M1220.7,943.5V932.3M1214.2,943.5h13.0M1214.2,932.3h13.0" stroke="#008000" stroke-width="2.2" fill="none"/>
<path d="M1368.7,1079.5V1057.1M1362.2,1079.5h13.0M1362.2,1057.1h13.0" stroke="#008000" stroke-width="2.2" fill="none"/>
<path d="M1516.8,1167.0V1152.1M1510.2,1167.0h13.0M1510.2,1152.1h13.0" stroke="#008000" stroke-width="2.2" fill="none"/>
<path d="M1664.8,1178.2V1163.3M1658.3,1178.2h13.0M1658.3,1163.3h13.0" stroke="#008000" stroke-width="2.2" fill="none"/>
<path d="M1812.8,1225.1V1202.8M1806.3,1225.1h13.0M1806.3,1202.8h13.0" stroke="#008000" stroke-width="2.2" fill="none"/>
<path d="M1886.8,1336.5V1314.2M1880.3,1336.5h13.0M1880.3,1314.2h13.0" stroke="#008000" stroke-width="2.2" fill="none"/>
<polygon points="1220.7,931.9 1225.7,937.9 1220.7,943.9 1215.7,937.9" fill="#008000"/>
<polygon points="1368.7,1062.3 1373.7,1068.3 1368.7,1074.3 1363.7,1068.3" fill="#008000"/>
<polygon points="1516.8,1153.6 1521.8,1159.6 1516.8,1165.6 1511.8,1159.6" fill="#008000"/>
<polygon points="1664.8,1164.7 1669.8,1170.7 1664.8,1176.7 1659.8,1170.7" fill="#008000"/>
<polygon points="1812.8,1208.0 1817.8,1214.0 1812.8,1220.0 1807.8,1214.0" fill="#008000"/>
<polygon points="1886.8,1319.4 1891.8,1325.4 1886.8,1331.4 1881.8,1325.4" fill="#008000"/>
<polyline points="1220.7,990.4 1368.7,1019.5 1516.8,1046.7 1664.8,1125.7 1812.8,1356.3 1886.8,1358.9" fill="none" stroke="#000080" stroke-width="3.9" stroke-linejoin="round"/>
<path d="M1220.7,997.9V983.0M1214.2,997.9h13.0M1214.2,983.0h13.0" stroke="#000080" stroke-width="2.2" fill="none"/>
<path d="M1368.7,1028.8V1010.2M1362.2,1028.8h13.0M1362.2,1010.2h13.0" stroke="#000080" stroke-width="2.2" fill="none"/>
<path d="M1516.8,1050.4V1042.9M1510.2,1050.4h13.0M1510.2,1042.9h13.0" stroke="#000080" stroke-width="2.2" fill="none"/>
<path d="M1664.8,1133.1V1118.2M1658.3,1133.1h13.0M1658.3,1118.2h13.0" stroke="#000080" stroke-width="2.2" fill="none"/>
<path d="M1812.8,1363.7V1348.8M1806.3,1363.7h13.0M1806.3,1348.8h13.0" stroke="#000080" stroke-width="2.2" fill="none"/>
<path d="M1886.8,1370.1V1347.7M1880.3,1370.1h13.0M1880.3,1347.7h13.0" stroke="#000080" stroke-width="2.2" fill="none"/>
<polygon points="1215.2,990.4 1225.0,984.7 1225.0,996.2" fill="#000080"/>
<polygon points="1363.2,1019.5 1373.0,1013.7 1373.0,1025.2" fill="#000080"/>
<polygon points="1511.2,1046.7 1521.0,1040.9 1521.0,1052.4" fill="#000080"/>
<polygon points="1659.3,1125.7 1669.0,1119.9 1669.0,1131.4" fill="#000080"/>
<polygon points="1807.3,1356.3 1817.0,1350.5 1817.0,1362.0" fill="#000080"/>
<polygon points="1881.3,1358.9 1891.0,1353.1 1891.0,1364.6" fill="#000080"/>
<polyline points="1220.7,1003.1 1368.7,1021.0 1516.8,1158.4 1664.8,1246.7 1812.8,1283.3 1886.8,1327.2" fill="none" stroke="#8000ff" stroke-width="3.9" stroke-linejoin="round"/>
<path d="M1220.7,1010.5V995.6M1214.2,1010.5h13.0M1214.2,995.6h13.0" stroke="#8000ff" stroke-width="2.2" fill="none"/>
<path d="M1368.7,1032.1V1009.8M1362.2,1032.1h13.0M1362.2,1009.8h13.0" stroke="#8000ff" stroke-width="2.2" fill="none"/>
<path d="M1516.8,1169.6V1147.3M1510.2,1169.6h13.0M1510.2,1147.3h13.0" stroke="#8000ff" stroke-width="2.2" fill="none"/>
<path d="M1664.8,1254.2V1239.3M1658.3,1254.2h13.0M1658.3,1239.3h13.0" stroke="#8000ff" stroke-width="2.2" fill="none"/>
<path d="M1812.8,1294.4V1272.1M1806.3,1294.4h13.0M1806.3,1272.1h13.0" stroke="#8000ff" stroke-width="2.2" fill="none"/>
<path d="M1886.8,1334.7V1319.8M1880.3,1334.7h13.0M1880.3,1319.8h13.0" stroke="#8000ff" stroke-width="2.2" fill="none"/>
<polygon points="1226.2,1003.1 1216.5,997.3 1216.5,1008.8" fill="#8000ff"/>
<polygon points="1374.2,1021.0 1364.5,1015.2 1364.5,1026.7" fill="#8000ff"/>
<polygon points="1522.2,1158.4 1512.5,1152.7 1512.5,1164.2" fill="#8000ff"/>
<polygon points="1670.3,1246.7 1660.5,1241.0 1660.5,1252.5" fill="#8000ff"/>
<polygon points="1818.3,1283.3 1808.5,1277.5 1808.5,1289.0" fill="#8000ff"/>
<polygon points="1892.3,1327.2 1882.5,1321.5 1882.5,1333.0" fill="#8000ff"/>
<polyline points="1220.7,1132.0 1368.7,1172.2 1516.8,1199.4 1664.8,1257.9 1812.8,1308.6 1886.8,1311.2" fill="none" stroke="#800080" stroke-width="3.9" stroke-linejoin="round"/>
<path d="M1220.7,1135.7V1128.3M1214.2,1135.7h13.0M1214.2,1128.3h13.0" stroke="#800080" stroke-width="2.2" fill="none"/>
<path d="M1368.7,1183.4V1161.1M1362.2,1183.4h13.0M1362.2,1161.1h13.0" stroke="#800080" stroke-width="2.2" fill="none"/>
<path d="M1516.8,1206.9V1192.0M1510.2,1206.9h13.0M1510.2,1192.0h13.0" stroke="#800080" stroke-width="2.2" fill="none"/>
<path d="M1664.8,1263.5V1252.3M1658.3,1263.5h13.0M1658.3,1252.3h13.0" stroke="#800080" stroke-width="2.2" fill="none"/>
<path d="M1812.8,1319.8V1297.4M1806.3,1319.8h13.0M1806.3,1297.4h13.0" stroke="#800080" stroke-width="2.2" fill="none"/>
<path d="M1886.8,1322.4V1300.0M1880.3,1322.4h13.0M1880.3,1300.0h13.0" stroke="#800080" stroke-width="2.2" fill="none"/>
<polygon points="1225.0,1134.5 1220.7,1137.0 1216.4,1134.5 1216.4,1129.5 1220.7,1127.0 1225.0,1129.5" fill="#800080"/>
<polygon points="1373.1,1174.7 1368.7,1177.2 1364.4,1174.7 1364.4,1169.7 1368.7,1167.2 1373.1,1169.7" fill="#800080"/>
<polygon points="1521.1,1201.9 1516.8,1204.4 1512.4,1201.9 1512.4,1196.9 1516.8,1194.4 1521.1,1196.9" fill="#800080"/>
<polygon points="1669.1,1260.4 1664.8,1262.9 1660.4,1260.4 1660.4,1255.4 1664.8,1252.9 1669.1,1255.4" fill="#800080"/>
<polygon points="1817.1,1311.1 1812.8,1313.6 1808.5,1311.1 1808.5,1306.1 1812.8,1303.6 1817.1,1306.1" fill="#800080"/>
<polygon points="1891.1,1313.7 1886.8,1316.2 1882.5,1313.7 1882.5,1308.7 1886.8,1306.2 1891.1,1308.7" fill="#800080"/>
<rect x="1147.0" y="859.8" width="814.1" height="595.7" fill="none" stroke="#000" stroke-width="4.3"/>
<line x1="1177.5" y1="1306.9" x2="1237.7" y2="1306.9" stroke="#ff8000" stroke-width="4.6" stroke-dasharray="0.01 8.2" stroke-linecap="round"/>
<rect x="1204.3" y="1301.9" width="10.0" height="10.0" fill="#ff8000"/>
<text x="1249.0" y="1316.2" font-size="27.5" fill="#ff8000" textLength="60.5" lengthAdjust="spacingAndGlyphs">CGP</text>
<line x1="1394.7" y1="1306.9" x2="1462.7" y2="1306.9" stroke="#008000" stroke-width="3.9"/>
<polygon points="1428.6,1300.9 1433.6,1306.9 1428.6,1312.9 1423.6,1306.9" fill="#008000"/>
<text x="1469.0" y="1316.2" font-size="27.5" fill="#008000" textLength="60.0" lengthAdjust="spacingAndGlyphs">CGP</text>
<line x1="1177.5" y1="1342.3" x2="1237.7" y2="1342.3" stroke="#ff0000" stroke-width="4.6" stroke-dasharray="0.01 8.2" stroke-linecap="round"/>
<circle cx="1209.3" cy="1342.3" r="5.0" fill="#ff0000"/>
<text x="1249.0" y="1351.6" font-size="27.5" fill="#ff0000" textLength="98.0" lengthAdjust="spacingAndGlyphs">CGP0.1</text>
<line x1="1394.7" y1="1342.3" x2="1462.7" y2="1342.3" stroke="#000080" stroke-width="3.9"/>
<polygon points="1423.1,1342.3 1432.8,1336.5 1432.8,1348.0" fill="#000080"/>
<text x="1469.0" y="1351.6" font-size="27.5" fill="#000080" textLength="98.5" lengthAdjust="spacingAndGlyphs">CGP0.1</text>
<line x1="1177.5" y1="1377.2" x2="1237.7" y2="1377.2" stroke="#ffff00" stroke-width="4.6" stroke-dasharray="0.01 8.2" stroke-linecap="round"/>
<polygon points="1209.3,1371.7 1215.0,1381.5 1203.5,1381.5" fill="#ffff00"/>
<text x="1249.0" y="1386.5" font-size="27.5" fill="#ffff00" textLength="115.5" lengthAdjust="spacingAndGlyphs">CGP0.07</text>
<line x1="1394.7" y1="1377.2" x2="1462.7" y2="1377.2" stroke="#8000ff" stroke-width="3.9"/>
<polygon points="1434.1,1377.2 1424.3,1371.5 1424.3,1383.0" fill="#8000ff"/>
<text x="1469.0" y="1386.5" font-size="27.5" fill="#8000ff" textLength="115.0" lengthAdjust="spacingAndGlyphs">CGP0.07</text>
<line x1="1177.5" y1="1412.8" x2="1237.7" y2="1412.8" stroke="#008080" stroke-width="4.6" stroke-dasharray="0.01 8.2" stroke-linecap="round"/>
<polygon points="1209.3,1418.3 1215.0,1408.5 1203.5,1408.5" fill="#008080"/>
<text x="1249.0" y="1422.1" font-size="27.5" fill="#008080" textLength="116.5" lengthAdjust="spacingAndGlyphs">CGP0.05</text>
<line x1="1394.7" y1="1412.8" x2="1462.7" y2="1412.8" stroke="#800080" stroke-width="3.9"/>
<polygon points="1432.9,1415.3 1428.6,1417.8 1424.3,1415.3 1424.3,1410.3 1428.6,1407.8 1432.9,1410.3" fill="#800080"/>
<text x="1469.0" y="1422.1" font-size="27.5" fill="#800080" textLength="116.0" lengthAdjust="spacingAndGlyphs">CGP0.05</text>
<rect x="5" y="1559" width="1085" height="764" fill="#fbfbfb"/>
<text x="11.5" y="1626.0" font-size="37">(e)</text>
<line x1="116.2" y1="2215.2" x2="130.2" y2="2215.2" stroke="#000" stroke-width="3.5"/>
<text x="107.0" y="2222.6" font-size="28" text-anchor="end" textLength="32.5" lengthAdjust="spacingAndGlyphs">20</text>
<line x1="116.2" y1="2146.0" x2="130.2" y2="2146.0" stroke="#000" stroke-width="3.5"/>
<text x="107.0" y="2153.4" font-size="28" text-anchor="end" textLength="32.5" lengthAdjust="spacingAndGlyphs">30</text>
<line x1="116.2" y1="2076.9" x2="130.2" y2="2076.9" stroke="#000" stroke-width="3.5"/>
<text x="107.0" y="2084.3" font-size="28" text-anchor="end" textLength="32.5" lengthAdjust="spacingAndGlyphs">40</text>
<line x1="116.2" y1="2007.8" x2="130.2" y2="2007.8" stroke="#000" stroke-width="3.5"/>
<text x="107.0" y="2015.2" font-size="28" text-anchor="end" textLength="32.5" lengthAdjust="spacingAndGlyphs">50</text>
<line x1="116.2" y1="1938.6" x2="130.2" y2="1938.6" stroke="#000" stroke-width="3.5"/>
<text x="107.0" y="1946.0" font-size="28" text-anchor="end" textLength="32.5" lengthAdjust="spacingAndGlyphs">60</text>
<line x1="116.2" y1="1869.4" x2="130.2" y2="1869.4" stroke="#000" stroke-width="3.5"/>
<text x="107.0" y="1876.8" font-size="28" text-anchor="end" textLength="32.5" lengthAdjust="spacingAndGlyphs">70</text>
<line x1="116.2" y1="1800.3" x2="130.2" y2="1800.3" stroke="#000" stroke-width="3.5"/>
<text x="107.0" y="1807.7" font-size="28" text-anchor="end" textLength="32.5" lengthAdjust="spacingAndGlyphs">80</text>
<line x1="116.2" y1="1731.2" x2="130.2" y2="1731.2" stroke="#000" stroke-width="3.5"/>
<text x="107.0" y="1738.6" font-size="28" text-anchor="end" textLength="32.5" lengthAdjust="spacingAndGlyphs">90</text>
<line x1="116.2" y1="1662.0" x2="130.2" y2="1662.0" stroke="#000" stroke-width="3.5"/>
<text x="107.0" y="1669.4" font-size="28" text-anchor="end" textLength="50.0" lengthAdjust="spacingAndGlyphs">100</text>
<line x1="129.6" y1="2222.0" x2="129.6" y2="2235.0" stroke="#000" stroke-width="3.5"/>
<text x="129.6" y="2264.5" font-size="27" text-anchor="middle">0</text>
<line x1="261.7" y1="2222.0" x2="261.7" y2="2235.0" stroke="#000" stroke-width="3.5"/>
<text x="261.7" y="2264.5" font-size="27" text-anchor="middle" textLength="50.0" lengthAdjust="spacingAndGlyphs">100</text>
<line x1="393.8" y1="2222.0" x2="393.8" y2="2235.0" stroke="#000" stroke-width="3.5"/>
<text x="393.8" y="2264.5" font-size="27" text-anchor="middle" textLength="50.0" lengthAdjust="spacingAndGlyphs">200</text>
<line x1="525.9" y1="2222.0" x2="525.9" y2="2235.0" stroke="#000" stroke-width="3.5"/>
<text x="525.9" y="2264.5" font-size="27" text-anchor="middle" textLength="50.0" lengthAdjust="spacingAndGlyphs">300</text>
<line x1="658.0" y1="2222.0" x2="658.0" y2="2235.0" stroke="#000" stroke-width="3.5"/>
<text x="658.0" y="2264.5" font-size="27" text-anchor="middle" textLength="50.0" lengthAdjust="spacingAndGlyphs">400</text>
<line x1="790.1" y1="2222.0" x2="790.1" y2="2235.0" stroke="#000" stroke-width="3.5"/>
<text x="790.1" y="2264.5" font-size="27" text-anchor="middle" textLength="50.0" lengthAdjust="spacingAndGlyphs">500</text>
<line x1="922.2" y1="2222.0" x2="922.2" y2="2235.0" stroke="#000" stroke-width="3.5"/>
<text x="922.2" y="2264.5" font-size="27" text-anchor="middle" textLength="50.0" lengthAdjust="spacingAndGlyphs">600</text>
<text x="528.9" y="2305.9" font-size="39" text-anchor="middle" textLength="330.0" lengthAdjust="spacingAndGlyphs">Temperature (°C)</text>
<text x="56.9" y="1920.4" font-size="42.9" text-anchor="middle" textLength="209.0" lengthAdjust="spacingAndGlyphs" transform="rotate(-90 56.9 1920.4)">Weight (%)</text>
<path d="M158.3,1663.2 C159.8,1664.8 163.8,1669.2 167.0,1672.9 C170.2,1676.7 174.1,1681.6 177.2,1685.7 C180.3,1689.8 182.9,1693.3 185.7,1697.6 C188.5,1701.8 191.4,1706.8 194.2,1711.2 C197.0,1715.6 199.6,1719.7 202.7,1723.9 C205.8,1728.1 209.2,1732.6 212.9,1736.6 C216.6,1740.6 219.6,1743.7 224.7,1747.7 C229.8,1751.7 236.3,1756.3 243.2,1760.5 C250.1,1764.7 258.3,1769.2 265.9,1773.0 C273.4,1776.8 279.9,1779.8 288.5,1783.3 C297.1,1786.8 307.9,1790.5 317.2,1794.0 C326.5,1797.5 335.3,1801.2 344.4,1804.3 C353.4,1807.4 362.4,1810.1 371.5,1812.5 C380.6,1814.9 389.6,1816.8 398.7,1818.8 C407.8,1820.8 419.0,1822.7 425.9,1824.3 C432.8,1825.9 436.3,1826.7 440.0,1828.5 C443.7,1830.3 445.4,1832.1 448.0,1835.0 C450.6,1837.9 453.0,1841.4 455.7,1845.7 C458.4,1850.0 461.4,1855.6 464.2,1861.0 C467.0,1866.4 469.7,1871.5 472.7,1878.0 C475.7,1884.5 479.5,1893.4 482.2,1900.0 C484.9,1906.6 486.9,1911.6 489.1,1917.4 C491.3,1923.2 493.4,1928.9 495.5,1934.7 C497.6,1940.5 499.9,1946.3 501.8,1952.1 C503.7,1957.9 505.4,1964.5 507.1,1969.5 C508.8,1974.5 510.4,1977.4 512.0,1982.0 C513.6,1986.6 515.0,1992.2 517.0,1997.0 C519.0,2001.8 521.2,2006.1 523.8,2010.6 C526.4,2015.1 529.2,2019.7 532.6,2024.2 C536.0,2028.7 540.0,2033.5 544.2,2037.8 C548.4,2042.1 552.7,2046.0 557.8,2050.0 C562.9,2053.9 568.5,2057.2 574.7,2061.5 C580.9,2065.8 588.3,2071.8 595.1,2076.0 C601.9,2080.2 607.9,2083.4 615.5,2087.0 C623.1,2090.6 633.2,2094.1 640.8,2097.6 C648.4,2101.1 654.4,2104.3 661.2,2107.8 C668.0,2111.3 674.7,2114.7 681.5,2118.6 C688.3,2122.5 696.3,2127.6 701.9,2131.5 C707.5,2135.4 709.9,2138.6 714.9,2142.0 C719.9,2145.4 724.8,2149.1 731.9,2152.1 C739.0,2155.1 748.9,2157.7 757.4,2159.8 C765.9,2161.9 773.0,2163.1 782.9,2164.9 C792.8,2166.7 805.6,2169.0 816.9,2170.8 C828.2,2172.6 839.5,2174.4 850.8,2175.9 C862.1,2177.4 876.0,2178.8 884.8,2179.6 C893.6,2180.4 900.4,2180.8 903.5,2181.0" fill="none" stroke="#000" stroke-width="3.8" stroke-linejoin="round"/>
<path d="M158.3,1662.3 C161.2,1663.2 170.5,1665.7 175.5,1668.0 C180.5,1670.3 184.2,1672.6 188.2,1676.0 C192.2,1679.4 195.8,1684.2 199.3,1688.5 C202.9,1692.8 206.0,1697.4 209.5,1702.0 C213.0,1706.6 216.6,1712.0 220.5,1716.3 C224.4,1720.6 229.4,1724.5 233.2,1728.0 C237.0,1731.5 238.2,1733.7 243.4,1737.0 C248.7,1740.3 258.3,1744.5 264.7,1748.0 C271.1,1751.5 275.8,1754.6 281.7,1758.0 C287.6,1761.4 294.1,1765.3 300.0,1768.5 C305.9,1771.7 308.3,1773.1 317.2,1777.1 C326.1,1781.1 342.8,1788.0 353.4,1792.5 C364.0,1797.0 371.5,1801.0 380.6,1804.3 C389.7,1807.6 401.2,1810.5 407.8,1812.5 C414.4,1814.5 414.5,1814.6 420.0,1816.0 C425.5,1817.4 436.0,1819.4 441.0,1821.0 C446.0,1822.6 447.1,1823.5 450.0,1825.5 C452.9,1827.5 454.0,1829.8 458.2,1832.9 C462.4,1836.0 470.5,1839.9 475.2,1844.0 C479.9,1848.1 482.9,1852.6 486.3,1857.6 C489.7,1862.5 493.1,1868.6 495.6,1873.7 C498.1,1878.8 499.8,1883.6 501.5,1888.0 C503.2,1892.4 504.4,1895.1 505.9,1900.0 C507.4,1904.9 508.9,1911.6 510.5,1917.4 C512.1,1923.2 513.9,1928.9 515.7,1934.7 C517.5,1940.5 519.6,1946.3 521.5,1952.1 C523.4,1957.9 525.7,1964.7 527.3,1969.5 C528.9,1974.3 529.5,1976.4 531.3,1981.0 C533.1,1985.6 535.4,1991.7 538.1,1997.0 C540.8,2002.3 544.3,2007.7 547.6,2012.6 C550.9,2017.5 553.8,2021.8 557.8,2026.2 C561.8,2030.6 566.2,2035.0 571.3,2039.1 C576.4,2043.2 582.6,2047.2 588.3,2050.7 C594.0,2054.2 599.9,2057.4 605.3,2060.2 C610.6,2063.0 614.5,2065.0 620.4,2067.7 C626.3,2070.4 634.0,2073.8 640.8,2076.5 C647.6,2079.2 654.4,2081.1 661.2,2084.0 C668.0,2086.9 674.7,2090.2 681.5,2094.2 C688.3,2098.2 695.5,2103.4 701.9,2107.8 C708.3,2112.2 713.3,2116.5 720.0,2120.7 C726.7,2124.9 734.5,2129.5 742.1,2133.0 C749.8,2136.5 756.3,2139.3 765.9,2141.9 C775.5,2144.5 788.6,2146.7 799.9,2148.7 C811.2,2150.7 822.5,2152.2 833.8,2153.8 C845.1,2155.4 854.1,2156.5 867.8,2158.0 C881.5,2159.5 908.1,2161.8 916.2,2162.6" fill="none" stroke="#ff0000" stroke-width="3.8" stroke-linejoin="round"/>
<path d="M158.3,1662.3 C161.2,1663.2 170.5,1665.6 175.5,1667.8 C180.5,1670.0 184.2,1672.2 188.2,1675.5 C192.2,1678.8 195.8,1683.3 199.3,1687.4 C202.9,1691.5 206.0,1695.8 209.5,1700.1 C213.0,1704.3 216.6,1708.8 220.5,1712.9 C224.4,1717.0 228.7,1721.0 233.2,1724.7 C237.7,1728.4 242.4,1731.5 247.7,1734.9 C252.9,1738.3 259.0,1741.7 264.7,1745.1 C270.4,1748.5 277.5,1752.7 281.7,1755.3 C285.9,1757.9 284.1,1757.1 290.0,1760.5 C295.9,1763.9 308.1,1770.5 317.2,1775.5 C326.3,1780.5 335.3,1785.9 344.4,1790.5 C353.4,1795.1 362.4,1799.1 371.5,1803.0 C380.6,1806.9 389.6,1810.9 398.7,1814.0 C407.8,1817.1 417.3,1818.8 425.9,1821.5 C434.4,1824.2 443.2,1826.7 450.0,1830.0 C456.8,1833.3 462.1,1837.7 466.7,1841.4 C471.3,1845.2 474.5,1848.2 477.8,1852.5 C481.1,1856.8 483.8,1861.7 486.5,1867.0 C489.2,1872.3 491.8,1879.0 494.0,1884.5 C496.2,1890.0 497.7,1894.5 499.5,1900.0 C501.3,1905.5 502.9,1911.6 504.7,1917.4 C506.5,1923.2 508.6,1928.9 510.5,1934.7 C512.4,1940.5 514.4,1946.3 516.3,1952.1 C518.2,1957.9 520.4,1964.7 522.1,1969.5 C523.8,1974.3 524.8,1976.4 526.5,1981.0 C528.2,1985.6 530.2,1992.1 532.6,1997.0 C535.0,2001.9 537.7,2006.1 540.8,2010.6 C543.9,2015.1 547.0,2019.7 551.0,2024.2 C555.0,2028.7 559.5,2033.5 564.6,2037.8 C569.7,2042.1 575.3,2045.7 581.5,2050.0 C587.7,2054.3 595.4,2060.1 601.9,2063.6 C608.4,2067.1 613.9,2068.5 620.4,2071.1 C626.9,2073.7 634.0,2076.7 640.8,2079.2 C647.6,2081.7 654.4,2083.2 661.2,2086.0 C668.0,2088.8 674.7,2092.2 681.5,2096.2 C688.3,2100.2 695.5,2105.1 701.9,2109.8 C708.3,2114.6 713.6,2120.2 720.0,2124.7 C726.4,2129.2 732.8,2133.4 740.4,2136.8 C748.0,2140.2 756.0,2142.8 765.9,2145.3 C775.8,2147.9 788.6,2150.1 799.9,2152.1 C811.2,2154.1 822.5,2155.6 833.8,2157.2 C845.1,2158.8 854.1,2160.1 867.8,2161.5 C881.5,2162.9 908.1,2165.0 916.2,2165.7" fill="none" stroke="#0000ff" stroke-width="3.8" stroke-linejoin="round"/>
<path d="M158.3,1662.7 C160.5,1663.4 166.9,1665.0 171.2,1667.0 C175.5,1669.0 180.2,1671.5 184.0,1674.6 C187.8,1677.7 191.1,1681.9 194.2,1685.7 C197.3,1689.5 199.9,1693.6 202.7,1697.6 C205.5,1701.6 208.2,1705.4 211.2,1709.5 C214.2,1713.6 217.2,1718.2 220.5,1722.2 C223.8,1726.2 226.9,1729.7 230.7,1733.2 C234.5,1736.7 238.5,1739.9 243.4,1743.4 C248.3,1747.0 254.7,1751.0 260.4,1754.5 C266.1,1758.0 272.5,1761.8 277.4,1764.7 C282.3,1767.6 283.4,1768.4 290.0,1772.0 C296.6,1775.6 308.1,1781.8 317.2,1786.5 C326.3,1791.2 335.3,1795.8 344.4,1800.0 C353.4,1804.2 362.4,1808.1 371.5,1811.5 C380.6,1814.9 389.6,1817.8 398.7,1820.5 C407.8,1823.2 418.3,1825.4 425.9,1827.5 C433.4,1829.6 439.6,1831.3 444.0,1833.0 C448.4,1834.7 449.2,1835.7 452.0,1837.5 C454.8,1839.3 457.6,1840.8 460.8,1844.0 C464.0,1847.2 467.6,1852.2 471.0,1856.7 C474.4,1861.2 478.4,1866.3 481.2,1871.2 C484.0,1876.1 486.0,1881.2 488.0,1886.0 C490.0,1890.8 491.4,1894.8 493.2,1900.0 C495.0,1905.2 497.1,1911.6 499.0,1917.4 C500.9,1923.2 502.8,1928.9 504.7,1934.7 C506.6,1940.5 508.7,1946.3 510.5,1952.1 C512.3,1957.9 514.1,1964.7 515.7,1969.5 C517.4,1974.3 518.5,1976.4 520.4,1981.0 C522.3,1985.6 524.7,1992.1 527.2,1997.0 C529.7,2001.9 532.5,2006.3 535.3,2010.6 C538.1,2014.9 541.0,2018.6 544.2,2022.8 C547.4,2027.0 550.4,2031.5 554.4,2035.7 C558.4,2039.9 562.9,2043.8 568.0,2047.9 C573.1,2052.0 579.2,2056.2 584.9,2060.2 C590.5,2064.2 596.0,2068.3 601.9,2071.7 C607.8,2075.1 613.9,2077.6 620.4,2080.6 C626.9,2083.6 634.0,2086.6 640.8,2089.4 C647.6,2092.2 654.4,2094.4 661.2,2097.6 C668.0,2100.8 674.7,2104.3 681.5,2108.4 C688.3,2112.5 695.5,2117.6 701.9,2122.0 C708.3,2126.4 713.6,2131.0 720.0,2134.9 C726.4,2138.8 732.8,2142.2 740.4,2145.3 C748.0,2148.5 756.0,2151.2 765.9,2153.8 C775.8,2156.4 788.6,2158.6 799.9,2160.6 C811.2,2162.6 822.5,2164.1 833.8,2165.7 C845.1,2167.3 854.1,2168.6 867.8,2170.0 C881.5,2171.4 908.1,2173.5 916.2,2174.2" fill="none" stroke="#008080" stroke-width="3.8" stroke-linejoin="round"/>
<rect x="130.2" y="1630.0" width="799.3" height="592.0" fill="none" stroke="#000" stroke-width="4.5"/>
<line x1="704.9" y1="1660.5" x2="781.3" y2="1660.5" stroke="#000" stroke-width="3"/>
<text x="789.0" y="1669.0" font-size="27" textLength="67.0" lengthAdjust="spacingAndGlyphs">CGP</text>
<line x1="704.9" y1="1698.0" x2="781.3" y2="1698.0" stroke="#ff0000" stroke-width="3"/>
<text x="789.0" y="1708.7" font-size="27" fill="#ff0000" textLength="106.0" lengthAdjust="spacingAndGlyphs">CGP0.1</text>
<line x1="704.9" y1="1736.3" x2="781.3" y2="1736.3" stroke="#0000ff" stroke-width="3"/>
<text x="789.0" y="1746.9" font-size="27" fill="#0000ff" textLength="126.0" lengthAdjust="spacingAndGlyphs">CGP0.07</text>
<line x1="704.9" y1="1775.2" x2="781.3" y2="1775.2" stroke="#008080" stroke-width="3"/>
<text x="789.0" y="1784.4" font-size="27" fill="#008080" textLength="126.0" lengthAdjust="spacingAndGlyphs">CGP0.05</text>
</svg>
</body></html>
